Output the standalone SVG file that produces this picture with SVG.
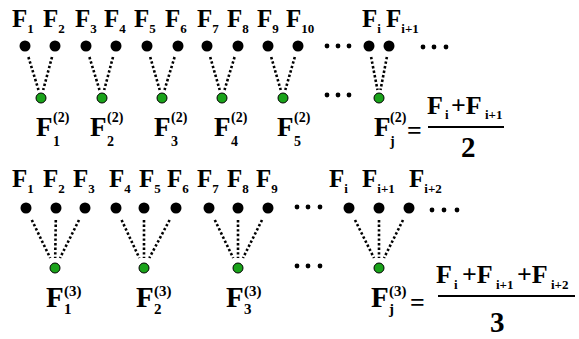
<svg xmlns="http://www.w3.org/2000/svg" width="579" height="339" viewBox="0 0 579 339">
<style>
text{font-family:"Liberation Serif","Times New Roman","DejaVu Serif",serif;font-weight:bold;fill:#000}
.lb{font-size:25px}
.sb{font-size:13px}
.gl{font-size:27px}
.gl3{font-size:29px}
.sp{font-size:14px}
.sp3{font-size:15px}
.num{font-size:26px}
.den{font-size:29px}
.bd{fill:#000}
.gd{fill:#1aa31a;stroke:#000;stroke-width:1}
.ed line{stroke:#000;stroke-width:2.6;stroke-dasharray:2.4 2.2}
.el{fill:#000}
</style>
<rect width="579" height="339" fill="#fff"/>
<!-- Connectors -->
<g id="connectors" class="ed">
<line x1="28.4" y1="57" x2="38.5" y2="90"/><line x1="52" y1="57" x2="43.2" y2="90"/>
<line x1="89.4" y1="57" x2="99.5" y2="90"/><line x1="113" y1="57" x2="104.2" y2="90"/>
<line x1="150.2" y1="57" x2="159.7" y2="90"/><line x1="174.6" y1="57" x2="164.5" y2="90"/>
<line x1="210.2" y1="57" x2="219.7" y2="90"/><line x1="234.6" y1="57" x2="224.5" y2="90"/>
<line x1="271.2" y1="57" x2="280.7" y2="90"/><line x1="294.8" y1="57" x2="285.3" y2="90"/>
<line x1="371.1" y1="57" x2="377.5" y2="90"/><line x1="386.9" y1="57" x2="380.5" y2="90"/>
<line x1="31.8" y1="220" x2="50.2" y2="258"/><line x1="55.8" y1="220" x2="55.2" y2="258"/><line x1="79" y1="220" x2="60" y2="258"/>
<line x1="121.6" y1="220" x2="139.3" y2="258"/><line x1="144" y1="220" x2="144" y2="258"/><line x1="169.6" y1="220" x2="149.3" y2="258"/>
<line x1="214.8" y1="220" x2="233.2" y2="258"/><line x1="238" y1="220" x2="238" y2="258"/><line x1="262" y1="220" x2="243" y2="258"/>
<line x1="355" y1="220" x2="374" y2="258"/><line x1="379" y1="220" x2="379" y2="258"/><line x1="403" y1="220" x2="384" y2="258"/>
</g>
<!-- Top row input nodes -->
<g id="t1"><circle class="bd" cx="25" cy="46" r="5.5"/><text class="lb" x="12" y="27">F<tspan class="sb" dy="6">1</tspan></text></g>
<g id="t2"><circle class="bd" cx="55" cy="46" r="5.5"/><text class="lb" x="43" y="27">F<tspan class="sb" dy="6">2</tspan></text></g>
<g id="t3"><circle class="bd" cx="86" cy="46" r="5.5"/><text class="lb" x="75" y="27">F<tspan class="sb" dy="6">3</tspan></text></g>
<g id="t4"><circle class="bd" cx="116" cy="46" r="5.5"/><text class="lb" x="104" y="27">F<tspan class="sb" dy="6">4</tspan></text></g>
<g id="t5"><circle class="bd" cx="147" cy="46" r="5.5"/><text class="lb" x="134" y="27">F<tspan class="sb" dy="6">5</tspan></text></g>
<g id="t6"><circle class="bd" cx="178" cy="46" r="5.5"/><text class="lb" x="165" y="27">F<tspan class="sb" dy="6">6</tspan></text></g>
<g id="t7"><circle class="bd" cx="207" cy="46" r="5.5"/><text class="lb" x="197" y="27">F<tspan class="sb" dy="6">7</tspan></text></g>
<g id="t8"><circle class="bd" cx="238" cy="46" r="5.5"/><text class="lb" x="227" y="27">F<tspan class="sb" dy="6">8</tspan></text></g>
<g id="t9"><circle class="bd" cx="268" cy="46" r="5.5"/><text class="lb" x="257" y="27">F<tspan class="sb" dy="6">9</tspan></text></g>
<g id="t10"><circle class="bd" cx="298" cy="46" r="5.5"/><text class="lb" x="286" y="27">F<tspan class="sb" dy="6">10</tspan></text></g>
<g id="ti"><circle class="bd" cx="369" cy="46" r="5.5"/><text class="lb" x="362" y="27">F<tspan class="sb" dy="6">i</tspan></text></g>
<g id="ti1"><circle class="bd" cx="389" cy="46" r="5.5"/><text class="lb" x="386" y="27">F<tspan class="sb" dy="6">i+1</tspan></text></g>
<g id="tdots1"><circle class="el" cx="327" cy="46" r="2.4"/><circle class="el" cx="338" cy="46" r="2.4"/><circle class="el" cx="349" cy="46" r="2.4"/></g>
<g id="tdots2"><circle class="el" cx="423" cy="47" r="2.4"/><circle class="el" cx="434" cy="47" r="2.4"/><circle class="el" cx="446" cy="47" r="2.4"/></g>
<g id="tdots3"><circle class="el" cx="327" cy="95" r="2.4"/><circle class="el" cx="338" cy="95" r="2.4"/><circle class="el" cx="349" cy="95" r="2.4"/></g>
<!-- Top row averaged nodes -->
<g id="g1"><circle class="gd" cx="41" cy="98" r="5"/><text class="gl" x="36" y="136">F<tspan class="sp" x="53" y="122">(2)</tspan><tspan class="sp" x="53" y="146">1</tspan></text></g>
<g id="g2"><circle class="gd" cx="102" cy="98" r="5"/><text class="gl" x="90" y="136">F<tspan class="sp" x="107" y="122">(2)</tspan><tspan class="sp" x="107" y="146">2</tspan></text></g>
<g id="g3"><circle class="gd" cx="162" cy="98" r="5"/><text class="gl" x="154" y="136">F<tspan class="sp" x="171" y="122">(2)</tspan><tspan class="sp" x="171" y="146">3</tspan></text></g>
<g id="g4"><circle class="gd" cx="222" cy="98" r="5"/><text class="gl" x="214" y="136">F<tspan class="sp" x="231" y="122">(2)</tspan><tspan class="sp" x="231" y="146">4</tspan></text></g>
<g id="g5"><circle class="gd" cx="283" cy="98" r="5"/><text class="gl" x="277" y="136">F<tspan class="sp" x="294" y="122">(2)</tspan><tspan class="sp" x="294" y="146">5</tspan></text></g>
<g id="gj"><circle class="gd" cx="379" cy="98" r="5"/><text class="gl" x="374" y="136">F<tspan class="sp" x="390" y="122">(2)</tspan><tspan class="sp" x="390" y="146">j</tspan></text></g>
<g id="f2">
<text class="num" x="407" y="139">=</text>
<text class="num" x="427" y="114">F<tspan class="sb" x="445" y="119">i</tspan><tspan x="451" y="114">+F</tspan><tspan class="sb" x="485" y="119">i+1</tspan></text>
<line x1="428" y1="127" x2="504" y2="127" stroke="#000" stroke-width="2"/>
<text class="den" x="461" y="157">2</text>
</g>
<!-- Bottom row input nodes -->
<g id="b1"><circle class="bd" cx="26" cy="208" r="5.5"/><text class="lb" x="12" y="187">F<tspan class="sb" dy="6">1</tspan></text></g>
<g id="b2"><circle class="bd" cx="56" cy="208" r="5.5"/><text class="lb" x="43" y="187">F<tspan class="sb" dy="6">2</tspan></text></g>
<g id="b3"><circle class="bd" cx="85" cy="208" r="5.5"/><text class="lb" x="73" y="187">F<tspan class="sb" dy="6">3</tspan></text></g>
<g id="b4"><circle class="bd" cx="116" cy="208" r="5.5"/><text class="lb" x="109" y="187">F<tspan class="sb" dy="6">4</tspan></text></g>
<g id="b5"><circle class="bd" cx="144" cy="208" r="5.5"/><text class="lb" x="139" y="187">F<tspan class="sb" dy="6">5</tspan></text></g>
<g id="b6"><circle class="bd" cx="176" cy="208" r="5.5"/><text class="lb" x="167" y="187">F<tspan class="sb" dy="6">6</tspan></text></g>
<g id="b7"><circle class="bd" cx="209" cy="208" r="5.5"/><text class="lb" x="197" y="187">F<tspan class="sb" dy="6">7</tspan></text></g>
<g id="b8"><circle class="bd" cx="238" cy="208" r="5.5"/><text class="lb" x="227" y="187">F<tspan class="sb" dy="6">8</tspan></text></g>
<g id="b9"><circle class="bd" cx="268" cy="208" r="5.5"/><text class="lb" x="256" y="187">F<tspan class="sb" dy="6">9</tspan></text></g>
<g id="bi"><circle class="bd" cx="349" cy="208" r="5.5"/><text class="lb" x="329" y="187">F<tspan class="sb" dy="6">i</tspan></text></g>
<g id="bi1"><circle class="bd" cx="379" cy="208" r="5.5"/><text class="lb" x="362" y="187">F<tspan class="sb" dy="6">i+1</tspan></text></g>
<g id="bi2"><circle class="bd" cx="409" cy="208" r="5.5"/><text class="lb" x="409" y="187">F<tspan class="sb" dy="6">i+2</tspan></text></g>
<g id="bdots1"><circle class="el" cx="297" cy="207" r="2.4"/><circle class="el" cx="308" cy="207" r="2.4"/><circle class="el" cx="320" cy="207" r="2.4"/></g>
<g id="bdots2"><circle class="el" cx="432" cy="210" r="2.4"/><circle class="el" cx="444" cy="210" r="2.4"/><circle class="el" cx="457" cy="210" r="2.4"/></g>
<g id="bdots3"><circle class="el" cx="297" cy="266" r="2.4"/><circle class="el" cx="308" cy="266" r="2.4"/><circle class="el" cx="320" cy="266" r="2.4"/></g>
<!-- Bottom row averaged nodes -->
<g id="h1"><circle class="gd" cx="55" cy="268" r="5"/><text class="gl3" x="46" y="307">F<tspan class="sp3" x="64" y="296">(3)</tspan><tspan class="sp3" x="64" y="314">1</tspan></text></g>
<g id="h2"><circle class="gd" cx="144" cy="268" r="5"/><text class="gl3" x="136" y="307">F<tspan class="sp3" x="154" y="296">(3)</tspan><tspan class="sp3" x="154" y="314">2</tspan></text></g>
<g id="h3"><circle class="gd" cx="238" cy="268" r="5"/><text class="gl3" x="226" y="307">F<tspan class="sp3" x="244" y="296">(3)</tspan><tspan class="sp3" x="244" y="314">3</tspan></text></g>
<g id="hj"><circle class="gd" cx="379" cy="268" r="5"/><text class="gl3" x="371" y="307">F<tspan class="sp3" x="389" y="296">(3)</tspan><tspan class="sp3" x="389" y="314">j</tspan></text></g>
<g id="f3">
<text class="num" x="410" y="311">=</text>
<text class="num" x="436" y="283">F<tspan class="sb" x="454" y="289">i</tspan><tspan x="462" y="283">+F</tspan><tspan class="sb" x="496" y="289">i+1</tspan><tspan x="517" y="283">+F</tspan><tspan class="sb" x="551" y="289">i+2</tspan></text>
<line x1="438" y1="296" x2="575" y2="296" stroke="#000" stroke-width="2"/>
<text class="den" x="490" y="332">3</text>
</g>
</svg>
